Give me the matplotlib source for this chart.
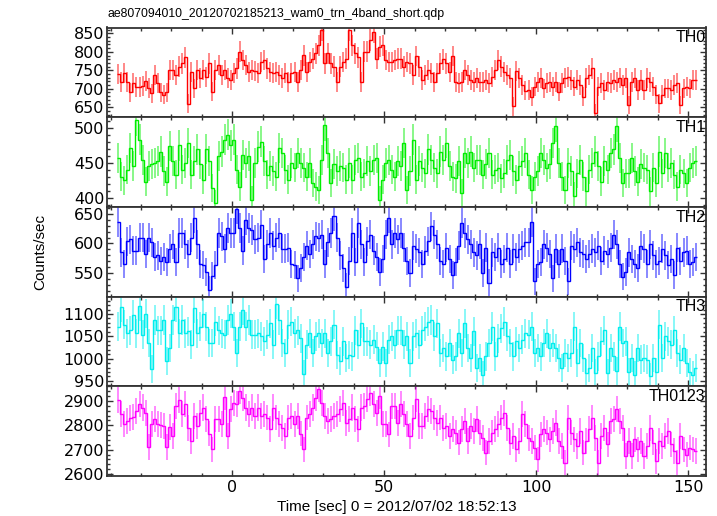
import numpy as np
import matplotlib
matplotlib.use("Agg")
import matplotlib.pyplot as plt
from matplotlib.ticker import MultipleLocator

# light curve, 1 s bins starting at t = -38 s (191 bins)
t_start = -38
bin_sec = 1.0

th0 = [740, 718, 742, 718, 690, 715, 705, 705,
       708, 720, 702, 688, 737, 715, 690, 684, 690, 750,
       750, 737, 760, 769, 785, 659, 746, 701, 751, 728,
       751, 731, 769, 692, 751, 765, 737, 751, 728, 724,
       742, 755, 800, 778, 765, 746, 751, 749, 742, 773,
       778, 755, 746, 742, 746, 737, 728, 742, 719, 742,
       746, 719, 751, 791, 746, 773, 782, 796, 818, 859,
       769, 796, 769, 760, 719, 760, 773, 782, 859, 818,
       796, 785, 719, 800, 800, 832, 854, 782, 814, 818,
       778, 773, 773, 778, 782,
       782, 760, 773, 769, 737,
       789, 760, 724, 737, 751, 742, 719, 742, 769, 780,
       769, 746, 789, 719, 715, 719, 751, 737, 724, 719,
       728, 719, 719, 724, 715, 733, 751, 778, 760, 746,
       737, 728, 652, 748, 728, 710, 695, 697, 679, 706,
       719, 728, 701, 715, 719, 706, 719, 692, 715, 728,
       733, 724, 706, 724, 710, 679, 728, 737, 755, 634,
       706, 715, 697, 719, 715, 724, 719, 728, 710, 730,
       656, 719, 728, 697, 724, 697, 728, 719, 706, 684,
       661, 684, 701, 701, 697, 710, 715, 656, 701, 706, 701, 724, 724]

th1 = [457, 430, 425, 440, 471, 445, 511, 483,
       454, 423, 445, 448, 450, 452, 466, 438, 423, 474,
       452, 433, 475, 440, 450, 478, 433, 452, 469, 448,
       426, 470, 452, 414, 392, 459, 466, 483, 490, 475,
       483, 440, 416, 461, 450, 459, 397, 450, 473, 480,
       452, 433, 445, 438, 430, 471, 464, 440, 426, 450,
       443, 464, 450, 443, 430, 450, 421, 416, 411, 454,
       504, 464, 421, 448, 438, 445, 443, 426, 450, 426,
       454, 457, 430, 435, 452, 438, 454, 457, 397, 426,
       450, 454, 440, 430, 452,
       445, 478, 411, 438, 483,
       426, 452, 443, 435, 469, 454, 443, 435, 466, 454,
       478, 445, 430, 428, 452, 407, 464, 450, 466, 443,
       454, 454, 433, 448, 464, 433, 440, 443, 428, 435,
       454, 461, 438, 426, 445, 452, 464, 433, 411, 430,
       438, 464, 454, 443, 448, 478, 502, 450, 430, 411,
       450, 438, 402, 435, 454, 430, 409, 440, 450, 466,
       445, 423, 452, 440, 464, 469, 502, 457, 421, 435,
       435, 457, 438, 423, 448, 443, 440, 409, 443, 421,
       466, 435, 464, 443, 450, 433, 416, 440, 435, 421, 443, 450, 452]

th2 = [637, 585, 566, 604, 607, 588, 588, 610,
       610, 582, 610, 602, 577, 580, 571, 577, 569, 591,
       599, 569, 618, 618, 599, 582, 610, 643, 599, 566,
       563, 552, 522, 545, 563, 618, 612, 591, 626, 618,
       618, 659, 626, 588, 640, 626, 623, 607, 610, 632,
       574, 599, 618, 596, 610, 618, 591, 591, 593, 566,
       563, 541, 558, 577, 596, 582, 599, 612, 610, 615,
       566, 602, 618, 646, 610, 580, 558, 527, 571, 618,
       569, 635, 599, 569, 604, 615, 588, 577, 552, 574,
       615, 643, 599, 618, 607,
       618, 593, 571, 550, 596,
       591, 585, 566, 588, 604, 629, 615, 599, 571, 566,
       593, 574, 547, 569, 596, 635, 618, 607, 599, 585,
       580, 599, 550, 593, 533, 585, 577, 593, 566, 574,
       593, 566, 591, 577, 591, 596, 602, 602, 637, 536,
       566, 569, 599, 593, 582, 541, 591, 566, 591, 571,
       536, 596, 591, 602, 585, 582, 574, 582, 591, 585,
       596, 571, 588, 582, 593, 615, 599, 566, 544, 552,
       585, 574, 566, 558, 596, 591, 566, 599, 580, 566,
       571, 591, 580, 563, 574, 547, 593, 571, 585, 588, 566, 569, 577]

th3 = [1072, 1116, 1076, 1057, 1064, 1098, 1057, 1118,
       1053, 1101, 1035, 976, 1087, 1064, 1064, 1087, 994, 1024,
       1087, 1116, 1057, 1087, 1057, 1061, 1031, 1113, 1057, 1072,
       1101, 1072, 1035, 1035, 1083, 1064, 1057, 1053, 1087, 1101,
       1072, 1012, 1072, 1109, 1072, 1087, 1053, 1053, 1057, 1050,
       1039, 1053, 1079, 1031, 1122, 1087, 1035, 1013, 1076, 1083,
       1057, 1064, 1046, 965, 1031, 1057, 1013, 1050, 1057, 1035,
       1057, 1012, 1039, 1076, 1008, 994, 1039, 1001, 1008, 1005,
       1064, 1031, 1079, 1039, 1039, 1031, 1042, 1027, 990, 1027,
       990, 1042, 1050, 1031, 1064,
       1064, 1031, 1050, 990, 1050,
       1057, 1031, 1064, 1072, 1083, 1087, 1050, 1079, 1013, 1024,
       1005, 1035, 998, 1005, 1057, 1012, 1079, 1024, 1001, 1061,
       979, 1001, 964, 1005, 1035, 1072, 1005, 1046, 1068, 1083,
       1050, 1035, 1005, 1039, 1024, 1042, 1057, 1053, 1072, 1012,
       1024, 1005, 1035, 1057, 1024, 1035, 1024, 1001, 979, 1012,
       1001, 1012, 1072, 990, 1035, 1001, 967, 979, 1024, 967,
       1005, 1039, 1064, 967, 1024, 1005, 972, 1072, 1035, 1039,
       971, 1001, 964, 1024, 998, 1001, 998, 960, 1001, 971,
       1076, 1001, 1050, 1039, 1031, 1064, 1012, 998, 1024, 990, 971, 964, 979]

th0123 = [2903, 2848, 2807, 2818, 2829, 2834, 2859, 2889,
          2873, 2852, 2711, 2807, 2825, 2804, 2801, 2797, 2711, 2793,
          2756, 2879, 2903, 2845, 2886, 2790, 2736, 2838, 2797, 2852,
          2873, 2825, 2766, 2701, 2825, 2825, 2804, 2916, 2756, 2866,
          2893, 2886, 2941, 2914, 2873, 2845, 2873, 2838, 2873, 2838,
          2845, 2832, 2784, 2873, 2832, 2804, 2790, 2756, 2832, 2838,
          2804, 2838, 2766, 2701, 2832, 2845, 2873, 2911, 2948, 2893,
          2838, 2818, 2825, 2838, 2845, 2866, 2893, 2811, 2825, 2873,
          2825, 2784, 2873, 2879, 2907, 2934, 2886, 2852, 2921, 2804,
          2804, 2763, 2879, 2879, 2811,
          2886, 2845, 2804, 2756, 2832,
          2907, 2797, 2797, 2838, 2866, 2859, 2832, 2811, 2832, 2790,
          2797, 2756, 2784, 2770, 2729, 2784, 2818, 2736, 2797, 2777,
          2825, 2770, 2749, 2688, 2736, 2770, 2784, 2804, 2832, 2852,
          2790, 2729, 2756, 2701, 2736, 2845, 2804, 2749, 2736, 2708,
          2660, 2763, 2784, 2770, 2742, 2777, 2811, 2736, 2715, 2646,
          2832, 2770, 2742, 2715, 2777, 2688, 2736, 2784, 2832, 2749,
          2646, 2756, 2790, 2722, 2818, 2825, 2866, 2818, 2790, 2674,
          2736, 2674, 2742, 2701, 2736, 2674, 2715, 2790, 2729, 2653,
          2736, 2715, 2756, 2777, 2722, 2694, 2646, 2756, 2701, 2680, 2708, 2701, 2694]

bands = ["TH0", "TH1", "TH2", "TH3", "TH0123"]
series = [th0, th1, th2, th3, th0123]
colors = ["#ff0000", "#00ee00", "#0000ff", "#00eeee", "#ff00ff"]
ylims = [(623, 866), (387, 515), (510, 662), (938, 1139), (2592, 2960)]
ymajor = [50, 50, 50, 50, 100]
yminor = [10, 10, 10, 10, 20]

title = "ae807094010_20120702185213_wam0_trn_4band_short.qdp"
xlabel = "Time [sec] 0 = 2012/07/02 18:52:13"

W, H = 717, 516
fig = plt.figure(figsize=(W / 100, H / 100), dpi=100)

left, right = 107, 706
top, bottom = 27.5, 476
ph = (bottom - top) / 5
txt_font = ["Liberation Sans", "DejaVu Sans"]

for i in range(5):
    y_low = top + (i + 1) * ph  # pixel row of the panel's lower edge
    ax = fig.add_axes([left / W, 1 - y_low / H, (right - left) / W, ph / H])
    rate = np.array(series[i], dtype=float)
    edges = t_start + bin_sec * np.arange(len(rate) + 1)
    centers = 0.5 * (edges[:-1] + edges[1:])
    err = np.sqrt(rate * bin_sec) / bin_sec  # poisson errors

    ax.errorbar(centers, rate, yerr=err, fmt="none", ecolor=colors[i],
                elinewidth=1.3, alpha=0.5, zorder=2)
    ax.stairs(rate, edges, baseline=None, color=colors[i], lw=1.0, zorder=3)

    ax.set_xlim(-41.2, 155.9)
    ax.set_ylim(*ylims[i])
    ax.xaxis.set_major_locator(MultipleLocator(50))
    ax.xaxis.set_minor_locator(MultipleLocator(10))
    ax.yaxis.set_major_locator(MultipleLocator(ymajor[i]))
    ax.yaxis.set_minor_locator(MultipleLocator(yminor[i]))
    ax.tick_params(which="both", direction="in", top=True, right=True,
                   color="#333333", width=1.0)
    ax.tick_params(which="major", length=4.5)
    ax.tick_params(which="minor", length=2.2)
    ax.tick_params(axis="y", labelsize=11.5, pad=2)
    ax.tick_params(axis="x", labelsize=11.5, pad=3)
    for s in ax.spines.values():
        s.set_linewidth(1.3)
        s.set_color("#333333")
    if i < 4:
        ax.tick_params(axis="x", labelbottom=False)
    ax.text(0.999, 0.885, bands[i], transform=ax.transAxes, ha="right",
            va="center", fontsize=11.5, family=txt_font)

fig.text(left / W, 1 - 14 / H, title, ha="left", va="center", fontsize=8.8,
         family=txt_font)
fig.text(397 / W, 1 - 507 / H, xlabel, ha="center", va="center", fontsize=11,
         family=txt_font)
fig.text(40 / W, 1 - 252 / H, "Counts/sec", ha="center", va="center",
         rotation=90, fontsize=11, family=txt_font)

fig.savefig("out.png", dpi=100)
